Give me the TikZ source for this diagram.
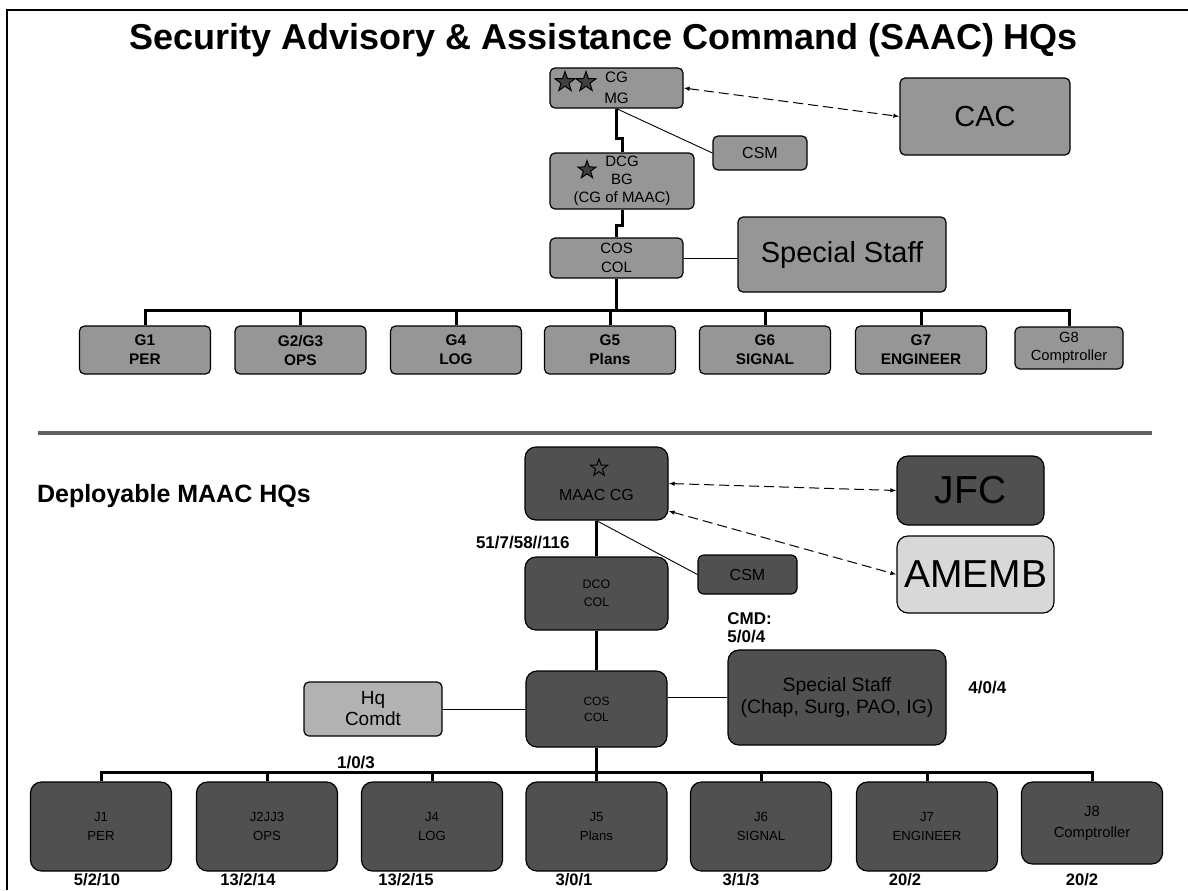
\documentclass[tikz,border=0pt]{standalone}
\usepackage{fontspec}
\setmainfont{Liberation Sans}
\usetikzlibrary{calc,shapes.geometric,arrows.meta}
\definecolor{topgray}{HTML}{969696}
\definecolor{botgray}{HTML}{505050}
\definecolor{hqgray}{HTML}{B2B2B2}
\definecolor{embgray}{HTML}{D8D8D8}
\definecolor{rulegray}{HTML}{606060}
\definecolor{stargray}{HTML}{404040}
\newcommand{\fs}[2]{\fontsize{#1}{#2}\selectfont}
\tikzset{
           wh/.style 2 args = { minimum width=#1*.5pt, minimum height=#2*.5pt },
       topbox/.style = { draw, fill=topgray, rounded corners=2.5pt, line width=.6pt, inner sep=0pt, align=center },
       botbox/.style = { draw, fill=botgray, rounded corners=5.5pt, line width=.6pt, inner sep=0pt, align=center },
       gboxtxt/.style = { font=\bfseries\fs{7.7}{9.5} },
       jboxtxt/.style = { font=\fs{6.6}{9.5} },
          bus/.style = { line width=1.5pt },
         link/.style = { line width=.45pt },
        assoc/.style = { line width=.5pt, dash pattern=on 5pt off 2.5pt, >={Latex[length=3pt,width=2.2pt]}, <-> },
      heading/.style = { font=\bfseries\fs{18}{20} },
        count/.style = { font=\bfseries\fs{8.5}{9}, inner sep=0pt },
     botcount/.style = { font=\bfseries\fs{8.3}{9}, inner sep=0pt },
    rankstar/.style = { star, star points=5, star point ratio=2.5, draw, line width=.5pt, inner sep=0pt, minimum size=10.5pt }
}

\begin{document}
\begin{tikzpicture}[x=.5pt, y=-.5pt]
  \useasboundingbox (0,0) rectangle (1188,890);
  % frame and divider
  \draw[line width=1.3pt] (7,890) -- (7,10) -- (1188,10);
  \draw[line width=2pt, rulegray] (38,433) -- (1152,433);

  % SAAC headquarters
  \node[heading] (title) at (604,40) {Security Advisory \& Assistance Command (SAAC) HQs};

  \node[topbox, wh={133}{40}, font=\fs{7.6}{10.5}] (cg) at (616.5,88) {CG\\MG};
  \node[rankstar, fill=stargray] (cgstara) at (565,82) {};
  \node[rankstar, fill=stargray] (cgstarb) at (586,82) {};
  \node[topbox, wh={170}{77}, font=\fs{14.5}{16}] (cac) at (985,116.5) {CAC};
  \node[topbox, wh={94}{34}, font=\fs{8}{9}] (csmtop) at (760,153) {CSM};
  \node[topbox, wh={144}{56}, font=\fs{7.5}{9}] (dcg) at (622,181) {DCG\\BG\\(CG of MAAC)};
  \node[rankstar, fill=stargray, minimum size=9.5pt] (dcgstar) at (587,170) {};
  \node[topbox, wh={133}{40}, font=\fs{7.5}{9.5}] (costop) at (616.5,258) {COS\\COL};
  \node[topbox, wh={208}{75}, font=\fs{14.5}{16}] (spectop) at (842,254.5) {Special Staff};

  \node[topbox, wh={131}{48}, gboxtxt] (g1) at (145,350) {G1\\PER};
  \node[topbox, wh={131}{48}, gboxtxt] (g23) at (300.5,350) {G2/G3\\OPS};
  \node[topbox, wh={131}{48}, gboxtxt] (g4) at (456,350) {G4\\LOG};
  \node[topbox, wh={131}{48}, gboxtxt] (g5) at (610,350) {G5\\Plans};
  \node[topbox, wh={131}{48}, gboxtxt] (g6) at (765,350) {G6\\SIGNAL};
  \node[topbox, wh={131}{48}, gboxtxt] (g7) at (921,350) {G7\\ENGINEER};
  \node[topbox, wh={108}{42}, font=\fs{7.4}{9}] (g8) at (1069,348) {G8\\Comptroller};

  \draw[bus] (cg.south) -- ++(0,30) -| (dcg.north);
  \draw[bus] (dcg.south) -- ++(0,16) -| (costop.north);
  \draw[bus] (costop.south) -- ++(0,32) coordinate (topbus);
  \draw[bus] (g1.north) -- (g1.north |- topbus) -- (g8.north |- topbus) -- (g8.north);
  \foreach \g in {g23,g4,g5,g6,g7}
    \draw[bus] (\g.north) -- (\g.north |- topbus);
  \draw[link] (cg.south) -- (csmtop.west);
  \draw[link] (costop.east) -- (costop.east -| spectop.west);
  \draw[assoc] (cg.east) -- (cac.west);

  % deployable MAAC headquarters
  \node[heading, font=\bfseries\fs{12.5}{14}, anchor=west] (deploy) at (30,496) {Deployable MAAC HQs};

  \node[botbox, wh={143}{73}] (maac) at (596.5,483.5) {};
  \node[font=\fs{8}{9}] (maactxt) at (596.5,495) {MAAC CG};
  \node[rankstar, minimum size=9pt, fill=none] (maacstar) at (599,468) {};
  \node[botbox, wh={147}{69}, font=\fs{19.5}{22}] (jfc) at (970.5,490.5) {JFC};
  \node[botbox, fill=embgray, wh={157}{77}, font=\fs{19.5}{22}] (amemb) at (975.5,574.5) {AMEMB};
  \node[botbox, wh={143}{73}, font=\fs{6.2}{9}] (dco) at (596.5,593.5) {DCO\\COL};
  \node[botbox, rounded corners=3pt, wh={99}{39}, font=\fs{8}{9}] (csmbot) at (747.5,574.5) {CSM};
  \node[botbox, wh={141}{76}, font=\fs{6}{8}] (cosbot) at (596.5,709) {COS\\COL};
  \node[botbox, fill=hqgray, rounded corners=2.5pt, wh={138}{54}, font=\fs{9.5}{10.5}] (hq) at (373,709) {Hq\\Comdt};
  \node[botbox, wh={218}{95}, font=\fs{9.7}{11}] (specbot) at (837,697.5) {Special Staff\\(Chap, Surg, PAO, IG)};

  \node[botbox, wh={141}{89}, jboxtxt] (j1) at (101,826.5) {J1\\PER};
  \node[botbox, wh={141}{89}, jboxtxt] (j23) at (267,826.5) {J2JJ3\\OPS};
  \node[botbox, wh={141}{89}, jboxtxt] (j4) at (432,826.5) {J4\\LOG};
  \node[botbox, wh={141}{89}, jboxtxt] (j5) at (596.5,826.5) {J5\\Plans};
  \node[botbox, wh={141}{89}, jboxtxt] (j6) at (761,826.5) {J6\\SIGNAL};
  \node[botbox, wh={141}{89}, jboxtxt] (j7) at (927,826.5) {J7\\ENGINEER};
  \node[botbox, wh={141}{82}, font=\fs{7.4}{10.5}] (j8) at (1092,823) {J8\\Comptroller};

  \draw[bus] (maac.south) -- (dco.north);
  \draw[bus] (dco.south) -- (cosbot.north);
  \draw[bus] (cosbot.south) -- ++(0,25) coordinate (botbus);
  \draw[bus] (j1.north) -- (j1.north |- botbus) -- (j8.north |- botbus) -- (j8.north);
  \foreach \j in {j23,j4,j5,j6,j7}
    \draw[bus] (\j.north) -- (\j.north |- botbus);
  \draw[link] (maac.south) -- (csmbot.west);
  \draw[link] (hq.east) -- (cosbot.west);
  \draw[link] (specbot.west) -- (specbot.west -| cosbot.east);
  \draw[assoc] (maac.east) -- (jfc.west);
  \draw[assoc] ($(maac.east)+(0,27.5)$) -- (amemb.west);

  % head counts
  \node[count, anchor=east] (maaccount) at (570,542) {51/7/58//116};
  \node[count, anchor=north west, align=left] (cmdcount) at (727,612) {CMD:\\5/0/4};
  \node[count, anchor=west] (speccount) at (968,687) {4/0/4};
  \node[count] (hqcount) at (356,762) {1/0/3};
  \node[botcount] (j1count) at (97,880) {5/2/10};
  \node[botcount] (j23count) at (248,880) {13/2/14};
  \node[botcount] (j4count) at (406,880) {13/2/15};
  \node[botcount] (j5count) at (574,880) {3/0/1};
  \node[botcount] (j6count) at (741,880) {3/1/3};
  \node[botcount] (j7count) at (905,880) {20/2};
  \node[botcount] (j8count) at (1082,880) {20/2};
\end{tikzpicture}
\end{document}
